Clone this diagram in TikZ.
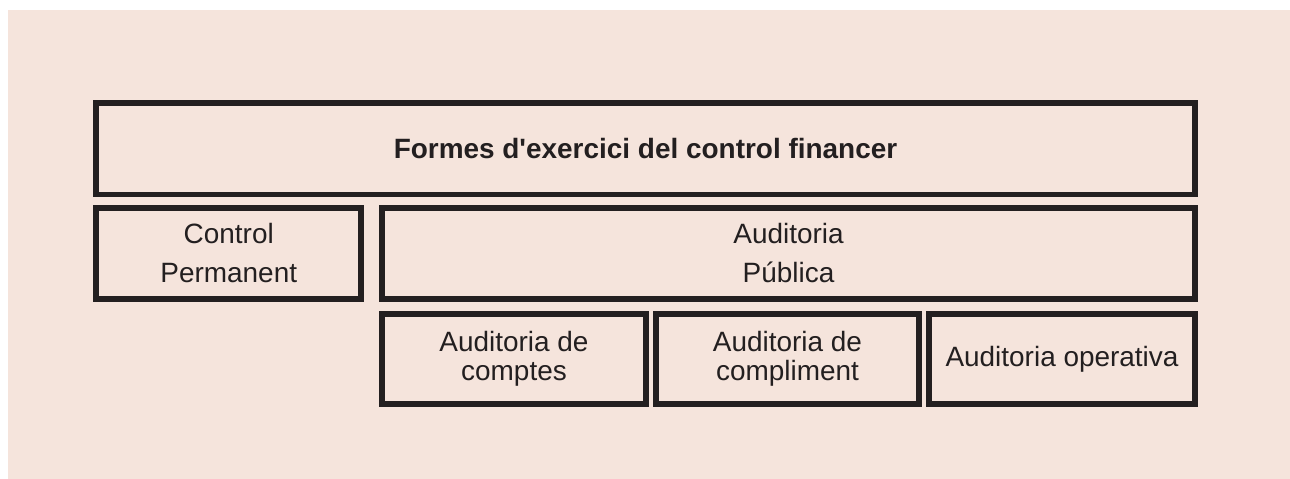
\documentclass[tikz,border=0pt]{standalone}
\usepackage{fontspec}
\setmainfont{Liberation Sans}[Ligatures=TeXOff]
\definecolor{fons}{RGB}{245,228,220}
\definecolor{tinta}{RGB}{35,31,32}

\begin{document}
\begin{tikzpicture}[x=0.02cm,y=-0.02cm]
	\tikzstyle{every node}+=[inner sep=0pt, text=tinta]
	\tikzstyle{caixa}=[draw=tinta, line width=3.4pt, rectangle, align=center, font=\fontsize{15.9}{22.2}\selectfont]
	\tikzstyle{caixapetita}=[caixa, minimum width=5.28cm, minimum height=1.8cm, font=\fontsize{15.9}{16.2}\selectfont]
	\useasboundingbox (0,0) rectangle (1290,479);
	\fill [fons] (8,10) rectangle (1290,479);
	\node [caixa, minimum width=21.98cm, minimum height=1.83cm, font=\bfseries\fontsize{15.9}{22.2}\selectfont] (formes) at (645.5,148.75) {Formes d'exercici del control financer};
	\node [caixa, minimum width=5.31cm, minimum height=1.82cm] (permanent) at (228.75,253.5) {Control\\Permanent};
	\node [caixa, minimum width=16.26cm, minimum height=1.82cm] (publica) at (788.5,253.5) {Auditoria\\Pública};
	\node [caixapetita] (comptes) at (514,359) {Auditoria de\\comptes};
	\node [caixapetita, minimum width=5.26cm] (compliment) at (787.5,359) {Auditoria de\\compliment};
	\node [caixapetita, minimum width=5.32cm] (operativa) at (1062,359) {Auditoria operativa};
\end{tikzpicture}
\end{document}
